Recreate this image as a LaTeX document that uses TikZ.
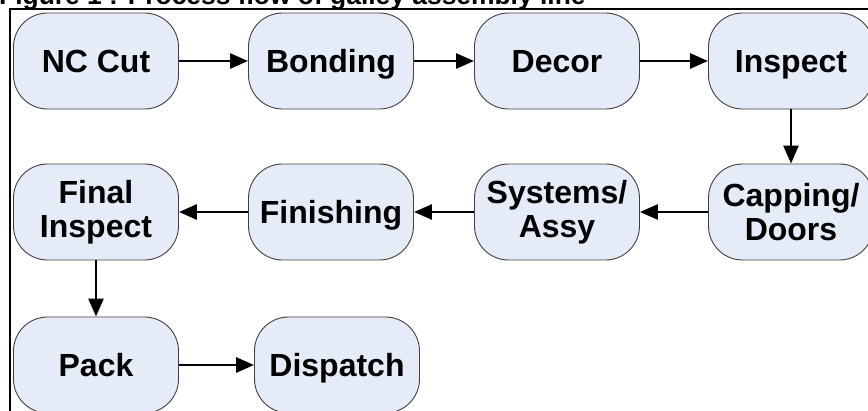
\documentclass[tikz,border=0pt]{standalone}
\usepackage{fontspec}
\setmainfont{Liberation Sans}
\usetikzlibrary{positioning,arrows.meta}
\definecolor{stagefill}{RGB}{230,236,247}

\begin{document}
\begin{tikzpicture}[x=1pt,y=-1pt,
    stage/.style  = {draw=black!75, line width=0.9pt, fill=stagefill,
                     rounded corners=34pt, minimum width=165pt, minimum height=96pt,
                     inner sep=0pt, align=center, font=\fontsize{32}{34}\selectfont\bfseries},
    single/.style = {stage, text height=23pt, text depth=0pt},
    flow/.style   = {line width=2.8pt, -{Triangle[length=18pt,width=15pt]}},
    frame/.style  = {line width=2.2pt}]
  \useasboundingbox (0,0) rectangle (868,410);
  \clip (0,0) rectangle (868,410);

  % caption, cut by the top of the picture
  \node[anchor=base west, inner sep=0pt, font=\fontsize{26.4}{28}\selectfont\bfseries]
    (caption) at (-1,4.5) {Figure 1 : Process flow of galley assembly line};
  \draw[frame] (10,420) -- (10,9) -- (880,9);

  % first row
  \node[single] (nccut)   at (96,61)  {NC Cut};
  \node[single] (bonding) at (331,61) {Bonding};
  \node[single] (decor)   at (557,61) {Decor};
  \node[single] (inspect) at (791,61) {Inspect};
  % second row
  \node[stage]  (capping) at (791,212) {Capping/\\Doors};
  \node[stage]  (systems) at (557,212) {Systems/\\Assy};
  \node[single] (finish)  at (331,212) {Finishing};
  \node[stage]  (final)   at (96,212)  {Final\\Inspect};
  % third row
  \node[single] (pack)     at (96,365)  {Pack};
  \node[single] (dispatch) at (337,365) {Dispatch};

  \draw[flow] (nccut)   -- (bonding);
  \draw[flow] (bonding) -- (decor);
  \draw[flow] (decor)   -- (inspect);
  \draw[flow] (inspect) -- (capping);
  \draw[flow] (capping) -- (systems);
  \draw[flow] (systems) -- (finish);
  \draw[flow] (finish)  -- (final);
  \draw[flow] (final)   -- (pack);
  \draw[flow] (pack)    -- (dispatch);
\end{tikzpicture}
\end{document}
